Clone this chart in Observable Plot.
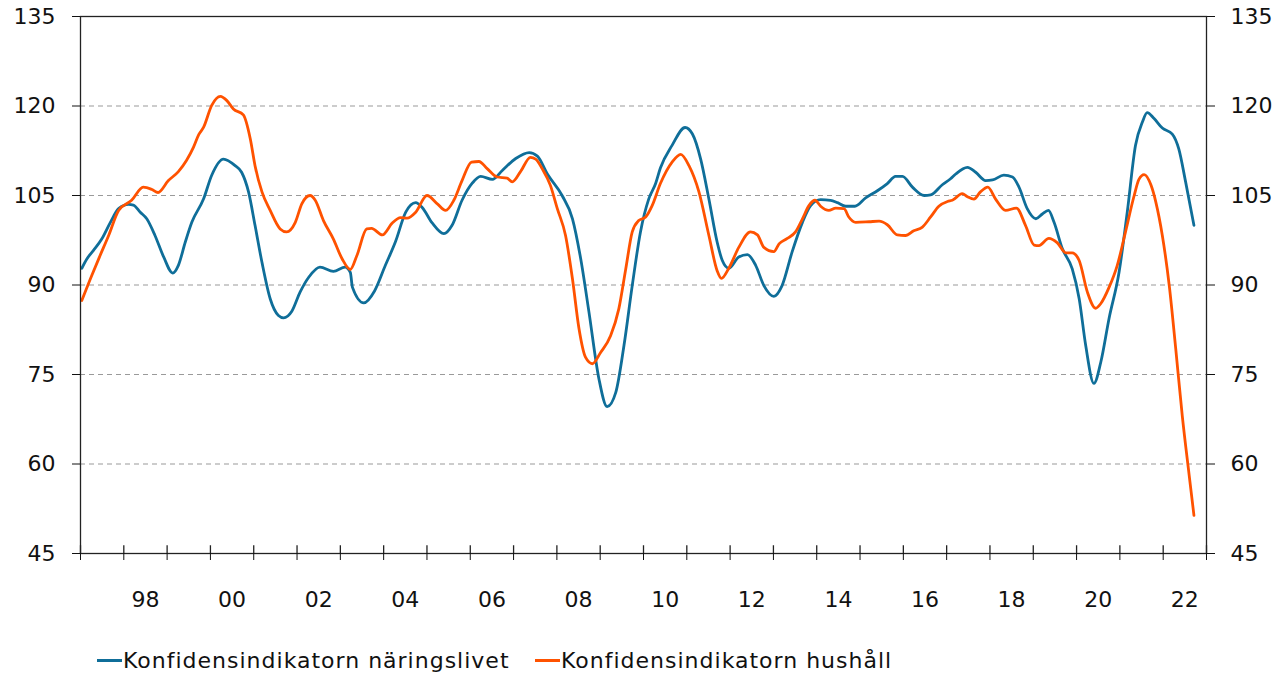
<!DOCTYPE html>
<html>
<head>
<meta charset="utf-8">
<script src="https://cdn.jsdelivr.net/npm/d3@7"></script>
<script src="https://cdn.jsdelivr.net/npm/@observablehq/plot@0.6"></script>
<style>
  html, body { margin: 0; padding: 0; background: #fff; }
  body { width: 1279px; height: 679px; overflow: hidden; font-family: "DejaVu Sans", Verdana, sans-serif; }
  #legend { position: relative; height: 39px; font-size: 22px; color: #111; letter-spacing: 1px; }
  .item { position: absolute; top: 8px; display: flex; align-items: center; white-space: nowrap; }
  .sw { display: inline-block; width: 25px; height: 3px; margin-right: 1px; }
</style>
</head>
<body>
<div id="chart"></div>
<div id="legend"></div>
<script>
const seriesNames = ["Konfidensindikatorn näringslivet", "Konfidensindikatorn hushåll"];
const seriesColors = ["#0f6e99", "#ff5200"];

const businessYears = [1997.03,1997.15,1997.30,1997.49,1997.69,1997.88,1998.11,1998.22,1998.38,1998.53,1998.72,1998.92,1999.13,1999.26,1999.42,1999.57,1999.84,2000.03,2000.30,2000.57,2000.72,2000.88,2001.03,2001.19,2001.38,2001.57,2001.69,2001.88,2002.07,2002.27,2002.53,2002.84,2003.11,2003.23,2003.28,2003.54,2003.79,2004.04,2004.27,2004.51,2004.74,2004.89,2005.12,2005.39,2005.58,2005.81,2006.05,2006.24,2006.51,2006.74,2007.05,2007.36,2007.55,2007.78,2008.12,2008.36,2008.55,2008.74,2008.97,2009.16,2009.36,2009.55,2009.74,2009.93,2010.12,2010.28,2010.39,2010.66,2010.96,2011.13,2011.32,2011.51,2011.70,2011.82,2011.97,2012.20,2012.40,2012.59,2012.78,2013.01,2013.20,2013.43,2013.67,2013.86,2014.09,2014.32,2014.48,2014.67,2014.88,2015.13,2015.40,2015.63,2015.82,2015.98,2016.21,2016.48,2016.63,2016.90,2017.09,2017.21,2017.48,2017.67,2017.90,2018.06,2018.32,2018.52,2018.67,2018.86,2019.06,2019.21,2019.35,2019.48,2019.67,2019.90,2020.06,2020.21,2020.40,2020.56,2020.75,2020.98,2021.17,2021.36,2021.52,2021.63,2021.79,2021.98,2022.21,2022.36,2022.52,2022.71];
const businessValues = [92.8,94.4,95.8,97.7,100.5,102.8,103.5,103.4,102.2,101.1,98.3,94.7,92.0,93.3,97.2,100.5,104.4,108.4,111.1,110.0,108.9,105.6,100.0,93.8,87.7,84.9,84.5,85.6,88.8,91.3,93.0,92.3,93.0,92.1,89.6,87.0,89.0,93.3,97.2,102.2,103.8,103.0,100.4,98.6,100.0,104.2,107.1,108.2,107.7,109.2,111.2,112.2,111.6,108.6,105.0,101.1,94.4,85.5,74.3,69.6,72.0,79.9,89.9,98.9,104.4,107.0,109.6,113.4,116.4,115.3,111.1,104.4,97.2,94.1,92.8,94.7,95.1,93.3,89.9,88.1,89.9,95.5,100.5,103.3,104.3,104.2,103.8,103.2,103.2,104.6,105.8,107.0,108.2,108.2,106.4,105.0,105.1,106.8,107.8,108.6,109.7,108.9,107.5,107.6,108.4,108.1,106.4,102.8,101.1,101.9,102.5,100.5,96.1,92.7,87.7,79.9,73.5,77.1,84.4,92.1,102.2,113.4,117.3,118.9,117.9,116.3,115.3,112.8,107.2,100.0];

const householdYears = [1997.03,1997.26,1997.45,1997.65,1997.88,1998.18,1998.45,1998.65,1998.79,1999.03,1999.26,1999.45,1999.61,1999.73,1999.84,2000.03,2000.23,2000.38,2000.53,2000.76,2000.92,2001.03,2001.19,2001.38,2001.61,2001.76,2001.96,2002.11,2002.30,2002.42,2002.61,2002.84,2003.04,2003.23,2003.38,2003.61,2003.72,2003.97,2004.20,2004.39,2004.54,2004.74,2005.00,2005.24,2005.43,2005.62,2005.81,2006.03,2006.20,2006.39,2006.62,2006.85,2006.97,2007.16,2007.39,2007.51,2007.66,2007.85,2008.01,2008.20,2008.36,2008.51,2008.66,2008.82,2009.01,2009.24,2009.43,2009.59,2009.74,2009.89,2010.05,2010.20,2010.39,2010.66,2010.86,2011.05,2011.28,2011.51,2011.70,2011.80,2011.97,2012.20,2012.47,2012.63,2012.78,2013.01,2013.13,2013.32,2013.51,2013.67,2013.82,2013.96,2014.09,2014.28,2014.44,2014.63,2014.74,2014.90,2015.21,2015.44,2015.63,2015.86,2016.05,2016.24,2016.44,2016.63,2016.82,2017.02,2017.13,2017.36,2017.48,2017.63,2017.78,2017.95,2018.13,2018.36,2018.61,2018.82,2019.02,2019.13,2019.36,2019.55,2019.75,2019.90,2020.06,2020.25,2020.44,2020.56,2020.75,2020.94,2021.13,2021.33,2021.44,2021.56,2021.72,2021.83,2021.98,2022.14,2022.29,2022.44,2022.60,2022.71];
const householdValues = [87.4,91.6,94.9,98.3,102.5,104.2,106.4,106.0,105.5,107.5,109.0,110.9,113.1,115.2,116.4,120.1,121.6,120.9,119.5,118.5,114.5,110.0,105.6,102.5,99.4,98.9,100.5,103.6,105.0,104.2,100.8,97.7,94.4,92.6,94.9,99.4,99.5,98.4,100.4,101.3,101.2,102.2,105.0,103.6,102.5,104.2,107.5,110.6,110.7,109.5,108.1,107.9,107.3,109.0,111.4,111.1,109.5,106.7,102.8,98.3,91.0,82.7,77.9,76.8,78.7,81.5,86.0,92.7,98.9,100.8,101.4,103.3,107.0,110.6,111.9,110.0,105.6,98.3,92.4,91.1,92.8,96.3,98.9,98.4,96.3,95.6,96.9,97.8,98.9,101.1,103.3,104.2,103.2,102.5,102.9,102.8,101.4,100.5,100.6,100.7,100.1,98.4,98.3,99.1,99.7,101.4,103.2,104.0,104.2,105.3,104.8,104.4,105.6,106.4,104.4,102.5,102.9,100.0,96.7,96.6,97.8,97.1,95.4,95.4,94.1,88.8,86.1,86.9,89.6,93.3,98.9,105.0,107.7,108.5,106.7,103.9,98.3,89.9,79.3,68.1,58.1,51.4];

const yTicks = [45, 60, 75, 90, 105, 120, 135];
const gridValues = [60, 75, 90, 105, 120];
const yearTicks = d3.range(1997, 2024);
const labelYears = [1998, 2000, 2002, 2004, 2006, 2008, 2010, 2012, 2014, 2016, 2018, 2020, 2022];
const xDomain = [1997, 2023];
const yDomain = [45, 135];

const rows = [
  ...businessYears.map((y, i) => ({year: y, value: businessValues[i], series: seriesNames[0]})),
  ...householdYears.map((y, i) => ({year: y, value: householdValues[i], series: seriesNames[1]}))
];

const chart = Plot.plot({
  width: 1279,
  height: 640,
  marginLeft: 80,
  marginRight: 73,
  marginTop: 16,
  marginBottom: 87,
  style: {fontFamily: "DejaVu Sans, Verdana, sans-serif", fontSize: "22px", color: "#111", background: "#fff"},
  x: {domain: xDomain},
  y: {domain: yDomain},
  color: {domain: seriesNames, range: seriesColors},
  marks: [
    Plot.ruleY(gridValues, {stroke: "#9a9a9a", strokeWidth: 1.2, strokeDasharray: "5,4"}),
    Plot.line(rows, {x: "year", y: "value", z: "series", stroke: "series", curve: "monotone-x", strokeWidth: 2.8}),
    Plot.frame({stroke: "#222", strokeWidth: 1.3}),
    Plot.axisY({anchor: "left", ticks: yTicks, tickSize: 8, tickPadding: 17, label: null}),
    Plot.axisY({anchor: "right", ticks: yTicks, tickSize: 8, tickPadding: 16, label: null}),
    Plot.axisX({ticks: yearTicks, tickSize: 7, tickFormat: () => "", label: null}),
    Plot.ruleX(yearTicks, {x: d => d, y1: 45, y2: 46.3, stroke: "#222", strokeWidth: 1.3}),
    Plot.axisX({ticks: labelYears.map(y => y + 0.5), tickSize: 0, tickPadding: 38,
      tickFormat: d => String(Math.floor(d) % 100).padStart(2, "0"), label: null})
  ]
});
document.getElementById("chart").appendChild(chart);

const legend = document.getElementById("legend");
const lefts = [97, 535];
seriesNames.forEach((name, i) => {
  const item = document.createElement("div");
  item.className = "item";
  item.style.left = lefts[i] + "px";
  const sw = document.createElement("span");
  sw.className = "sw";
  sw.style.background = seriesColors[i];
  const tx = document.createElement("span");
  tx.textContent = name;
  item.appendChild(sw);
  item.appendChild(tx);
  legend.appendChild(item);
});
</script>
</body>
</html>
